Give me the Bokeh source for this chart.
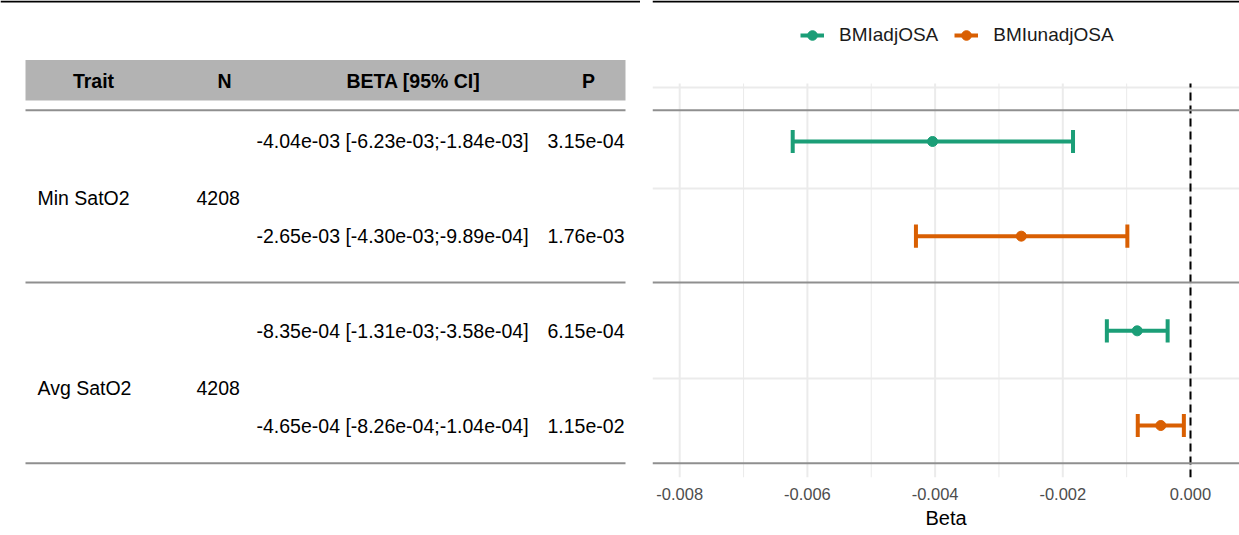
from bokeh.plotting import figure
from bokeh.models import (Range1d, FixedTicker, PrintfTickFormatter, Span, Legend,
                          LegendItem, ColumnDataSource, Grid)
from bokeh.layouts import row
from bokeh.embed import file_html
from bokeh.resources import INLINE
from bokeh.core.properties import value

# ---------------- data ----------------
traits = ["Min SatO2", "Avg SatO2"]
n_samples = [4208, 4208]
models = ["BMIadjOSA", "BMIunadjOSA"]

beta_adj = [-4.04e-03, -8.35e-04]
lo_adj = [-6.23e-03, -1.31e-03]
hi_adj = [-1.84e-03, -3.58e-04]
p_adj = ["3.15e-04", "6.15e-04"]

beta_unadj = [-2.65e-03, -4.65e-04]
lo_unadj = [-4.30e-03, -8.26e-04]
hi_unadj = [-9.89e-04, -1.04e-04]
p_unadj = ["1.76e-03", "1.15e-02"]

x_ticks = [-0.008, -0.006, -0.004, -0.002, 0.0]
x_minor = [-0.007, -0.005, -0.003, -0.001]
header = ["Trait", "N", "BETA [95% CI]", "P"]

# ---------------- style / layout ----------------
FONT = "Liberation Sans"
COLORS = {"BMIadjOSA": "#1B9E77", "BMIunadjOSA": "#D95F02"}
PX_ROW = 94.67      # pixels per row unit
ROW1 = 425.0        # screen y of row y=1
XPX = 63850.0       # pixels per beta unit
X0_PX = 1190.0      # screen x of beta=0
FRAME_BOTTOM = 477
PANEL_TOP = 83
H = 535


def ry(px):
    return 1 + (ROW1 - px) / PX_ROW


def bx(px):
    return (px - X0_PX) / XPX


# row positions: each trait has adj row then unadj row
y_adj = [4 - 2 * i for i in range(len(traits))]
y_unadj = [3 - 2 * i for i in range(len(traits))]
sep_lines = [4.33, 2.51, 0.60]
y_grid = [1.5, 3.5, 4.57]
CAP = 0.122

Y_RANGE = (ry(FRAME_BOTTOM), ry(0))

# ---------------- table figure ----------------
t = figure(width=640, height=H, x_range=Range1d(0, 640), y_range=Range1d(*Y_RANGE),
           output_backend="svg", toolbar_location=None, x_axis_location=None,
           y_axis_location=None, min_border_left=0, min_border_right=0,
           min_border_top=0, min_border_bottom=H - FRAME_BOTTOM)
t.outline_line_color = None
t.grid.visible = False
t.add_layout(Span(location=ry(1), dimension="width", line_color="#000000", line_width=2))

t.quad(left=[25], right=[625], top=[ry(59.5)], bottom=[ry(100)],
       fill_color="#B3B3B3", line_color=None)
t.text(x=[93, 224, 413, 588], y=[ry(80)] * 4, text=header,
       text_font=value(FONT), text_font_style="bold", text_font_size="19.5px",
       text_align="center", text_baseline="middle", text_color="#000000")
t.segment(x0=[25] * 3, x1=[625] * 3, y0=sep_lines, y1=sep_lines,
          line_color="#8F8F8F", line_width=2)

trait_y = [(a + b) / 2 - 0.1 for a, b in zip(y_adj, y_unadj)]
t.text(x=[37] * len(traits), y=trait_y, text=traits, text_font=value(FONT),
       text_font_size="19.5px", text_baseline="middle", text_color="#000000")
t.text(x=[196] * len(traits), y=trait_y, text=[str(v) for v in n_samples],
       text_font=value(FONT), text_font_size="19.5px", text_baseline="middle",
       text_color="#000000")


def fmt(b, l, h):
    return f"{b:.2e} [{l:.2e};{h:.2e}]"


row_y = y_adj + y_unadj
beta_txt = [fmt(*v) for v in zip(beta_adj, lo_adj, hi_adj)] + \
           [fmt(*v) for v in zip(beta_unadj, lo_unadj, hi_unadj)]
p_txt = p_adj + p_unadj
t.text(x=[256] * len(row_y), y=row_y, text=beta_txt, text_font=value(FONT),
       text_font_size="19.5px", text_baseline="middle", text_color="#000000")
t.text(x=[547] * len(row_y), y=row_y, text=p_txt, text_font=value(FONT),
       text_font_size="19.5px", text_baseline="middle", text_color="#000000")

# ---------------- forest figure ----------------
p = figure(width=599, height=H, x_range=Range1d(bx(652), bx(1239)),
           y_range=Range1d(*Y_RANGE),
           output_backend="svg", toolbar_location=None, y_axis_location=None,
           min_border_left=12, min_border_right=0, min_border_top=0,
           min_border_bottom=H - FRAME_BOTTOM)
p.outline_line_color = None
p.add_layout(Span(location=ry(1), dimension="width", line_color="#000000", line_width=2))

p.xaxis.ticker = FixedTicker(ticks=x_ticks, minor_ticks=x_minor)
p.xaxis.formatter = PrintfTickFormatter(format="%.3f")
p.xaxis.axis_line_color = None
p.xaxis.major_tick_line_color = None
p.xaxis.minor_tick_line_color = None
p.xaxis.major_label_text_font = FONT
p.xaxis.major_label_text_font_size = "16.5px"
p.xaxis.major_label_text_color = "#4D4D4D"
p.xaxis.major_label_standoff = 4
p.xaxis.axis_label = "Beta"
p.xaxis.axis_label_text_font = FONT
p.xaxis.axis_label_text_font_size = "20px"
p.xaxis.axis_label_text_font_style = "normal"
p.xaxis.axis_label_text_color = "#000000"
p.xaxis.axis_label_standoff = 4

p.xgrid.visible = False
p.ygrid.visible = False
# vertical grid lines limited to the panel
p.segment(x0=x_ticks, x1=x_ticks, y0=[ry(FRAME_BOTTOM)] * len(x_ticks),
          y1=[ry(PANEL_TOP)] * len(x_ticks), line_color="#EBEBEB", line_width=2)
p.segment(x0=x_minor, x1=x_minor, y0=[ry(FRAME_BOTTOM)] * len(x_minor),
          y1=[ry(PANEL_TOP)] * len(x_minor), line_color="#EBEBEB", line_width=1)
p.add_layout(Grid(dimension=1, ticker=FixedTicker(ticks=y_grid),
                  grid_line_color="#EBEBEB", grid_line_width=2))

for yv in sep_lines:
    p.add_layout(Span(location=yv, dimension="width", line_color="#8F8F8F", line_width=2))
p.segment(x0=[0.0], x1=[0.0], y0=[ry(FRAME_BOTTOM)], y1=[ry(PANEL_TOP)],
          line_color="#000000", line_width=2, line_dash="8 5")

items = []
series = {
    "BMIadjOSA": (y_adj, beta_adj, lo_adj, hi_adj),
    "BMIunadjOSA": (y_unadj, beta_unadj, lo_unadj, hi_unadj),
}
for m in models:
    ys, b, lo, hi = series[m]
    src = ColumnDataSource(dict(y=ys, beta=b, lo=lo, hi=hi,
                                ytop=[v + CAP for v in ys], ybot=[v - CAP for v in ys]))
    c = COLORS[m]
    seg = p.segment(x0="lo", x1="hi", y0="y", y1="y", source=src, line_color=c, line_width=4)
    p.segment(x0="lo", x1="lo", y0="ybot", y1="ytop", source=src, line_color=c, line_width=4)
    p.segment(x0="hi", x1="hi", y0="ybot", y1="ytop", source=src, line_color=c, line_width=4)
    dot = p.scatter(x="beta", y="y", source=src, size=10, fill_color=c, line_color=c)
    items.append(LegendItem(label=m, renderers=[seg, dot]))

legend = Legend(items=items, orientation="horizontal", location=(148, 430),
                label_text_font=FONT, label_text_font_size="19px", label_text_color="#1A1A1A",
                glyph_width=24, glyph_height=24, label_standoff=15, spacing=16,
                padding=0, margin=0, border_line_color=None, background_fill_alpha=0)
p.add_layout(legend)

layout = row(t, p)
open("out.html", "w").write(file_html(layout, INLINE))
